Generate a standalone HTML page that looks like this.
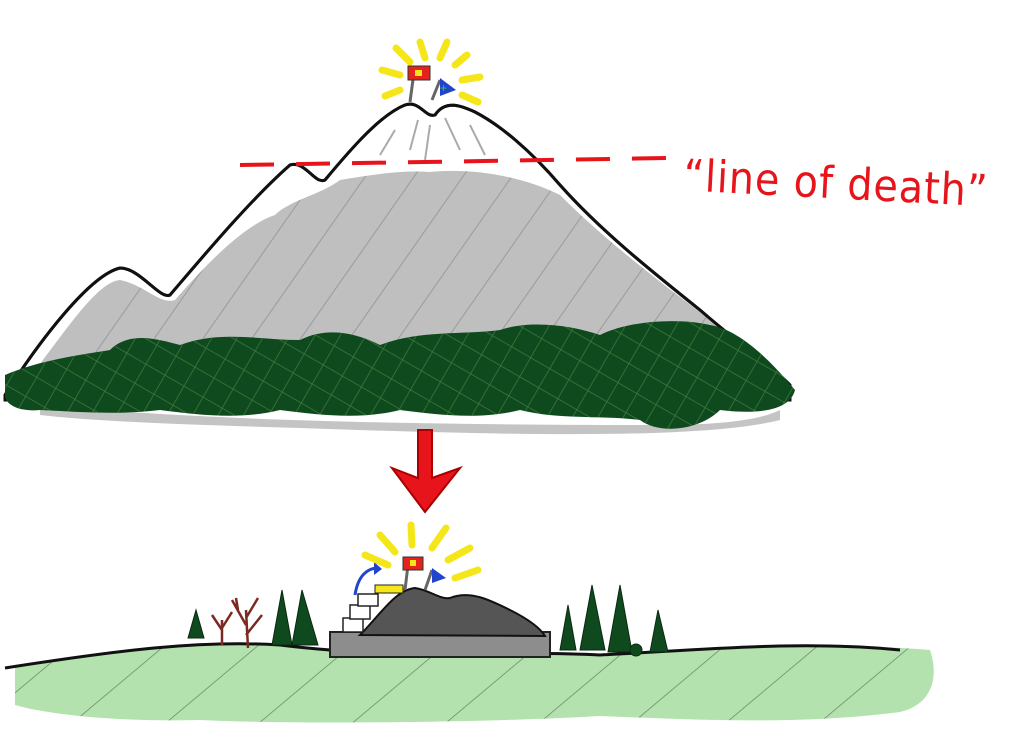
<!DOCTYPE html>
<html><head><meta charset="utf-8"><style>
html,body{margin:0;padding:0;background:#fff;width:1024px;height:747px;overflow:hidden}
</style></head><body>
<svg width="1024" height="747" viewBox="0 0 1024 747" xmlns="http://www.w3.org/2000/svg">
<defs>
<pattern id="hatch" width="40" height="40" patternUnits="userSpaceOnUse" patternTransform="rotate(35)">
<line x1="0" y1="0" x2="0" y2="40" stroke="#8a8a8a" stroke-width="2"/>
</pattern>
<pattern id="ghatch" width="22" height="22" patternUnits="userSpaceOnUse" patternTransform="rotate(30)">
<line x1="0" y1="0" x2="0" y2="22" stroke="#3f7a3c" stroke-width="1.5"/>
<line x1="0" y1="0" x2="22" y2="0" stroke="#3f7a3c" stroke-width="1.5"/>
</pattern>
<pattern id="lhatch" width="60" height="30" patternUnits="userSpaceOnUse" patternTransform="rotate(50)">
<line x1="0" y1="0" x2="0" y2="30" stroke="#3a4a3a" stroke-width="1.5"/>
</pattern>
</defs>

<path d="M5,395 C40,340 90,275 120,268 C140,268 160,300 170,295 C200,260 250,200 290,165 C305,160 315,185 325,180 C350,150 380,115 405,105 C420,100 425,118 435,115 C445,100 460,105 475,112 C500,125 530,150 560,185 C600,230 650,270 700,310 C740,345 770,365 790,385 L790,400 L5,400 Z" fill="#fff" stroke="#111" stroke-width="3"/>
<g stroke="#aaa" stroke-width="2" fill="none">
<path d="M418,120 L410,150"/><path d="M430,125 L425,160"/><path d="M445,118 L460,150"/><path d="M470,125 L485,155"/><path d="M395,130 L380,155"/>
</g>
<path d="M20,390 C60,340 95,282 120,280 C145,285 160,305 175,300 C210,260 245,225 275,215 C290,200 320,195 340,180 C370,175 400,170 430,172 C470,168 520,175 560,195 C600,235 650,275 700,312 C740,345 770,368 785,390 L20,405 Z" fill="#bfbfbf"/>
<path d="M20,390 C60,340 95,282 120,280 C145,285 160,305 175,300 C210,260 245,225 275,215 C290,200 320,195 340,180 C370,175 400,170 430,172 C470,168 520,175 560,195 C600,235 650,275 700,312 C740,345 770,368 785,390 L20,405 Z" fill="url(#hatch)" opacity="0.7"/>
<path d="M5,395 C40,340 90,275 120,268 C140,268 160,300 170,295 C200,260 250,200 290,165 C305,160 315,185 325,180 C350,150 380,115 405,105 C420,100 425,118 435,115 C445,100 460,105 475,112 C500,125 530,150 560,185 C600,230 650,270 700,310 C740,345 770,365 790,385" fill="none" stroke="#111" stroke-width="3"/>
<!-- shadow -->
<path d="M40,405 C200,420 400,425 660,425 C720,425 760,420 780,410 L780,420 C700,440 500,435 300,428 C200,425 100,422 40,415 Z" fill="#c4c4c4"/>
<path d="M5,375 C40,360 80,355 110,350 C130,330 160,340 180,345 C220,330 260,340 300,340 C330,325 360,335 380,345 C420,330 460,335 500,330 C530,320 570,325 600,335 C630,320 680,318 710,325 C740,330 770,360 795,390 C790,410 760,415 720,410 C700,430 660,435 640,420 C600,415 560,420 520,410 C480,420 440,415 400,410 C360,420 320,415 280,410 C240,420 200,415 160,410 C120,415 80,412 40,410 C20,412 5,405 5,395 Z" fill="#0f4a1f"/>
<path d="M5,375 C40,360 80,355 110,350 C130,330 160,340 180,345 C220,330 260,340 300,340 C330,325 360,335 380,345 C420,330 460,335 500,330 C530,320 570,325 600,335 C630,320 680,318 710,325 C740,330 770,360 795,390 C790,410 760,415 720,410 C700,430 660,435 640,420 C600,415 560,420 520,410 C480,420 440,415 400,410 C360,420 320,415 280,410 C240,420 200,415 160,410 C120,415 80,412 40,410 C20,412 5,405 5,395 Z" fill="url(#ghatch)"/>

<line x1="240" y1="165" x2="668" y2="158" stroke="#e8141c" stroke-width="4" stroke-dasharray="34,22"/>
<text x="683" y="198" font-family="DejaVu Sans, sans-serif" font-weight="normal" font-size="44" letter-spacing="1" fill="#e8141c" transform="rotate(3 830 190)" textLength="305" lengthAdjust="spacingAndGlyphs">“line of death”</text>

<g stroke="#f5e61a" stroke-width="7" stroke-linecap="round">
<line x1="425" y1="58" x2="420" y2="42"/><line x1="440" y1="58" x2="447" y2="42"/>
<line x1="410" y1="62" x2="396" y2="48"/><line x1="455" y1="65" x2="467" y2="55"/>
<line x1="400" y1="75" x2="382" y2="70"/><line x1="462" y1="80" x2="480" y2="77"/>
<line x1="400" y1="90" x2="385" y2="96"/><line x1="462" y1="95" x2="478" y2="102"/>
</g>
<line x1="414" y1="72" x2="410" y2="102" stroke="#666" stroke-width="3"/>
<rect x="408" y="66" width="22" height="14" fill="#e3231c" stroke="#333"/>
<rect x="415" y="70" width="7" height="6" fill="#f5e61a"/>
<line x1="432" y1="100" x2="440" y2="80" stroke="#666" stroke-width="3"/>
<path d="M440,78 L456,90 L440,96 Z" fill="#2244cc"/>
<text x="440" y="92" font-size="12" fill="#2d2" font-family="Liberation Sans">+</text>

<path d="M418,430 L432,430 L432,478 L460,468 L425,512 L392,468 L418,478 Z" fill="#e8141c" stroke="#a00" stroke-width="2"/>

<path d="M15,665 C120,650 200,640 280,645 C400,660 500,650 600,655 C700,650 800,640 930,650 C940,680 930,705 900,712 C800,725 700,720 600,716 C500,722 300,725 200,720 C120,722 50,715 15,705 Z" fill="#b3e2ae"/>
<path d="M15,665 C120,650 200,640 280,645 C400,660 500,650 600,655 C700,650 800,640 930,650 C940,680 930,705 900,712 C800,725 700,720 600,716 C500,722 300,725 200,720 C120,722 50,715 15,705 Z" fill="url(#lhatch)" opacity="0.6"/>
<path d="M5,668 C120,650 200,640 280,645 C400,660 500,650 600,655 C700,650 800,640 900,650" fill="none" stroke="#111" stroke-width="3"/>

<rect x="330" y="632" width="220" height="25" fill="#8d8d8d" stroke="#222" stroke-width="2"/>
<path d="M360,635 C380,615 395,590 415,588 C430,590 440,600 450,598 C470,590 490,600 510,610 C530,620 540,628 545,636 Z" fill="#555" stroke="#111" stroke-width="2"/>
<g stroke="#222" stroke-width="1.5" fill="#fff">
<rect x="343" y="618" width="20" height="14"/><rect x="350" y="605" width="20" height="14"/><rect x="358" y="594" width="20" height="12"/>
</g>
<rect x="375" y="585" width="28" height="8" fill="#f5e61a" stroke="#222"/>
<path d="M355,595 C358,575 368,568 378,568" fill="none" stroke="#2244cc" stroke-width="3"/>
<path d="M374,562 L382,569 L374,575 Z" fill="#2244cc"/>

<g stroke="#f5e61a" stroke-width="7" stroke-linecap="round">
<line x1="412" y1="545" x2="411" y2="525"/><line x1="432" y1="548" x2="446" y2="528"/>
<line x1="395" y1="552" x2="380" y2="535"/><line x1="448" y1="560" x2="470" y2="548"/>
<line x1="388" y1="565" x2="365" y2="555"/><line x1="455" y1="578" x2="478" y2="570"/>
</g>
<line x1="408" y1="565" x2="405" y2="590" stroke="#666" stroke-width="3"/>
<rect x="403" y="557" width="20" height="13" fill="#e3231c" stroke="#333"/>
<rect x="410" y="560" width="6" height="6" fill="#f5e61a"/>
<line x1="425" y1="590" x2="432" y2="570" stroke="#666" stroke-width="3"/>
<path d="M432,568 L446,578 L432,583 Z" fill="#2244cc"/>

<g fill="#0f4a1f" stroke="#0a2a10" stroke-width="1">
<path d="M196,610 L188,638 L204,638 Z"/>
<path d="M282,590 L272,645 L292,645 Z"/>
<path d="M302,590 L292,645 L318,645 Z"/>
<path d="M568,605 L560,650 L576,650 Z"/>
<path d="M592,585 L580,650 L605,650 Z"/>
<path d="M620,585 L608,652 L632,652 Z"/>
<path d="M658,610 L650,652 L668,652 Z"/>
<circle cx="636" cy="650" r="6"/>
</g>
<g stroke="#7a2a22" stroke-width="2.5" fill="none">
<path d="M248,648 L246,610 M246,625 L232,600 M246,618 L258,598 M246,635 L262,615 M238,610 L236,598"/>
<path d="M222,645 L222,620 M222,630 L212,615 M222,628 L232,612"/>
</g>
</svg>
</body></html>
